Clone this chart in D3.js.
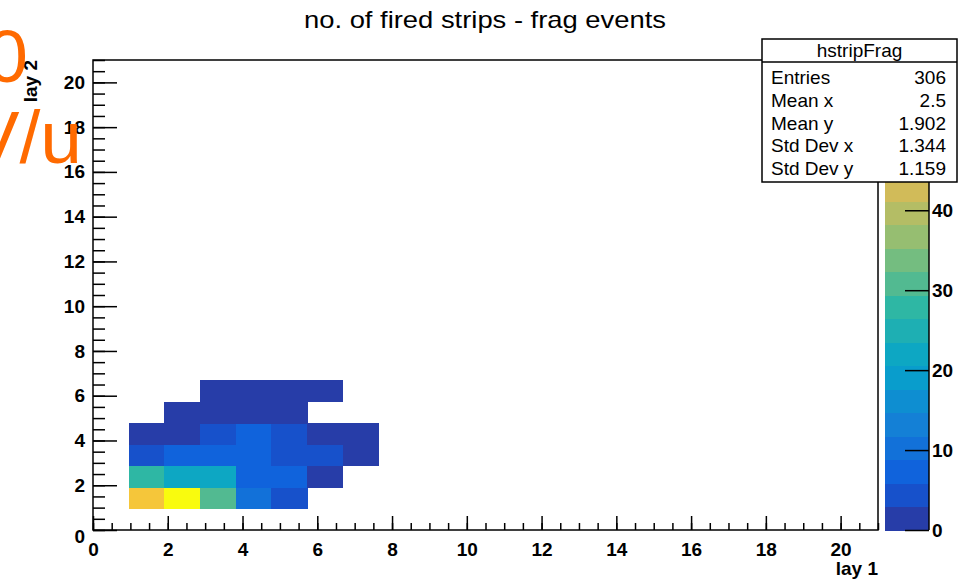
<!DOCTYPE html>
<html>
<head>
<meta charset="utf-8">
<script src="https://cdn.jsdelivr.net/npm/d3@7"></script>
<style>
  body { margin: 0; background: #fff; }
  svg { display: block; }
  text { font-family: "Liberation Sans", Arial, Helvetica, sans-serif; }
</style>
</head>
<body>
<div id="chart"></div>
<script>
const lay1Bins = [1, 2, 3, 4, 5, 6, 7];
const lay2Bins = [1, 2, 3, 4, 5, 6];
const counts = [
    [48, 56, 31, 10, 5, 0, 0],
    [28, 22, 22, 7, 7, 2, 0],
    [5, 7, 7, 7, 4, 4, 1],
    [2, 1, 4, 8, 5, 1, 1],
    [0, 1, 2, 1, 2, 0, 0],
    [0, 0, 1, 2, 1, 1, 0]
];
const axisTicks = [0, 2, 4, 6, 8, 10, 12, 14, 16, 18, 20];
const zTicks = [0, 10, 20, 30, 40];
const statNames = ["Entries", "Mean x", "Mean y", "Std Dev x", "Std Dev y"];
const statValues = ["306", "2.5", "1.902", "1.344", "1.159"];

const W = 960, H = 579;
const nBins = 22, axisMax = 21, binW = axisMax / nBins;
const nContours = 20;

// ROOT kBird palette stops
const birdStops = [0, 0.125, 0.25, 0.375, 0.5, 0.625, 0.75, 0.875, 1];
const birdRGB = [
    [0.2082, 0.1664, 0.5293], [0.0592, 0.3599, 0.8684], [0.0780, 0.5041, 0.8385],
    [0.0232, 0.6419, 0.7914], [0.1802, 0.7178, 0.6425], [0.5301, 0.7492, 0.4662],
    [0.8186, 0.7328, 0.3499], [0.9956, 0.7862, 0.1968], [0.9764, 0.9832, 0.0539]
];
const bird = d3.scaleLinear()
    .domain(birdStops)
    .range(birdRGB.map(c => d3.rgb(c[0] * 255, c[1] * 255, c[2] * 255)))
    .interpolate(d3.interpolateRgb);
// colour of contour level k, like THistPainter
const levelColor = k => bird(Math.floor((k + 0.99) * 255 / nContours) / 254);

const svg = d3.select("#chart").append("svg")
    .attr("width", W).attr("height", H);

const x = d3.scaleLinear().domain([0, axisMax]).range([93, 878]);
const y = d3.scaleLinear().domain([0, axisMax]).range([530, 60]);

const zMax = d3.max(counts.flat()) * 1.05;
const z = d3.scaleLinear().domain([0, zMax]).range([530, 60]);
const level = v => Math.min(nContours - 1, Math.floor(v / (zMax / nContours)));

// cells
const cells = [];
lay2Bins.forEach((j, r) => lay1Bins.forEach((i, c) => {
    if (counts[r][c] > 0) cells.push({ i, j, v: counts[r][c] });
}));
svg.append("g").attr("shape-rendering", "crispEdges").selectAll("rect")
    .data(cells)
    .enter().append("rect")
    .attr("x", d => x(d.i * binW))
    .attr("y", d => y((d.j + 1) * binW))
    .attr("width", d => x((d.i + 1) * binW) - x(d.i * binW) + 0.5)
    .attr("height", d => y(d.j * binW) - y((d.j + 1) * binW) + 0.5)
    .attr("fill", d => levelColor(level(d.v)));

// axes, ticks pointing inward
const minorX = d3.range(0, axisMax + 0.01, 0.5);
function styleAxis(g) {
    g.select(".domain").remove();
    g.selectAll("line").attr("stroke", "#000").attr("stroke-width", 1.5);
    g.selectAll("text").attr("font-size", 19).attr("font-weight", "bold")
        .attr("fill", "#000").attr("font-family", "'Liberation Sans', Arial, sans-serif");
}
svg.append("g").attr("transform", "translate(0,530)")
    .call(d3.axisBottom(x).tickValues(minorX).tickSize(-7).tickFormat(""))
    .call(styleAxis);
svg.append("g").attr("transform", "translate(0,530)")
    .call(d3.axisBottom(x).tickValues(axisTicks).tickSize(-14).tickPadding(8).tickFormat(d3.format("d")))
    .call(styleAxis)
    .selectAll("text").attr("dy", "0.95em");

svg.append("g").attr("transform", "translate(93,0)")
    .call(d3.axisLeft(y).tickValues(minorX).tickSize(-12).tickFormat(""))
    .call(styleAxis);
const yAx = svg.append("g").attr("transform", "translate(93,0)")
    .call(d3.axisLeft(y).tickValues(axisTicks).tickSize(-24).tickPadding(8).tickFormat(d3.format("d")))
    .call(styleAxis);
yAx.selectAll("text").filter(d => d === 0).attr("dy", "0.68em");

// frame
svg.append("rect")
    .attr("x", 93).attr("y", 60).attr("width", 878 - 93).attr("height", 470)
    .attr("fill", "none").attr("stroke", "#000").attr("stroke-width", 1.5);

// colour bar
const bands = d3.range(nContours);
svg.append("g").attr("shape-rendering", "crispEdges").selectAll("rect")
    .data(bands)
    .enter().append("rect")
    .attr("x", 885).attr("width", 44)
    .attr("y", k => z((k + 1) * zMax / nContours))
    .attr("height", k => z(k * zMax / nContours) - z((k + 1) * zMax / nContours) + 0.5)
    .attr("fill", k => levelColor(k));
svg.append("g").attr("transform", "translate(929,0)")
    .call(d3.axisRight(z).tickValues(zTicks).tickSize(-24).tickPadding(3).tickFormat(d3.format("d")))
    .call(styleAxis);
svg.append("line").attr("x1", 929).attr("x2", 929).attr("y1", 60).attr("y2", 530)
    .attr("stroke", "#000").attr("stroke-width", 1.5);

// titles
svg.append("text").attr("x", 485).attr("y", 28).attr("text-anchor", "middle")
    .attr("font-size", 24).attr("textLength", 362).attr("lengthAdjust", "spacingAndGlyphs")
    .text("no. of fired strips - frag events");
svg.append("text").attr("x", 878).attr("y", 575).attr("text-anchor", "end")
    .attr("font-size", 19).attr("font-weight", "bold").text("lay 1");
svg.append("text").attr("transform", "translate(37,60) rotate(-90)").attr("text-anchor", "end")
    .attr("font-size", 19).attr("font-weight", "bold").text("lay 2");

// stats box
const stats = svg.append("g");
stats.append("rect").attr("x", 762).attr("y", 39).attr("width", 195).attr("height", 143)
    .attr("fill", "#fff").attr("stroke", "#000").attr("stroke-width", 1.5);
stats.append("line").attr("x1", 762).attr("x2", 957).attr("y1", 62).attr("y2", 62)
    .attr("stroke", "#000").attr("stroke-width", 1.5);
stats.append("text").attr("x", 859.5).attr("y", 57).attr("text-anchor", "middle")
    .attr("font-size", 19).text("hstripFrag");
statNames.forEach((name, i) => {
    stats.append("text").attr("x", 771).attr("y", 84 + i * 22.8)
        .attr("font-size", 19).text(name);
    stats.append("text").attr("x", 946).attr("y", 84 + i * 22.8).attr("text-anchor", "end")
        .attr("font-size", 19).text(statValues[i]);
});

// overlapping orange label, clipped at the page edge
const orange = svg.append("g").attr("fill", "#ff6a00").attr("font-size", 75);
orange.append("text").attr("x", 37).attr("y", -1).attr("text-anchor", "middle").text("e");
orange.append("text").attr("x", 28).attr("y", 82).attr("text-anchor", "end").text("400");
orange.append("text").attr("x", 82).attr("y", 163).attr("text-anchor", "end").text("MeV/u");
</script>
</body>
</html>
